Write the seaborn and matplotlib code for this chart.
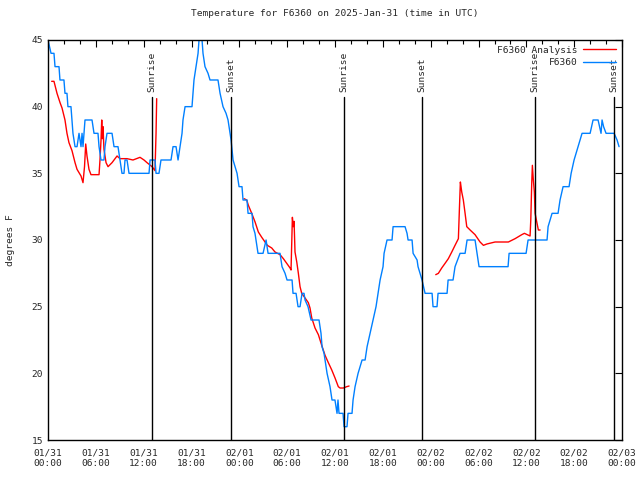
import matplotlib
matplotlib.use("Agg")
import matplotlib.pyplot as plt
import matplotlib.dates as mdates
from matplotlib.lines import Line2D
import seaborn as sns
import pandas as pd

sns.set_theme(style="white")
plt.rcParams['font.family'] = ['DejaVu Sans Mono']
FS = 6.8

start = pd.Timestamp("2025-01-31 00:00")

# observed station temperature (hours since 01/31 00:00 UTC, deg F)
obs_hours = [0.0, 0.38, 0.75, 0.88, 1.38, 1.5, 2.0, 2.13, 2.38, 2.5, 2.88, 3.0, 3.13, 3.39,
             3.64, 3.89, 4.14, 4.27, 4.39, 4.64, 5.52, 5.77, 6.27, 6.4, 6.65, 7.02, 7.15,
             7.4, 8.03, 8.28, 8.78, 9.03, 9.28, 9.53, 9.66, 9.91, 10.16, 12.67, 12.8, 13.42,
             13.55, 13.92, 14.17, 15.43, 15.68, 16.06, 16.31, 16.56, 16.81, 16.93, 17.19,
             18.06, 18.19, 18.31, 18.56, 18.82, 18.94, 19.13, 19.32, 19.44, 19.69, 20.07,
             20.32, 21.32, 21.58, 21.95, 22.33, 22.58, 22.83, 22.96, 23.21, 23.46, 23.71,
             23.96, 24.33, 24.46, 24.96, 25.09, 25.59, 25.71, 25.96, 26.34, 26.97, 27.35,
             27.6, 29.1, 29.35, 29.73, 29.98, 30.61, 30.73, 31.11, 31.36, 31.61, 31.86,
             32.11, 32.24, 32.61, 32.99, 33.99, 34.24, 34.37, 34.62, 34.75, 35.0, 35.37,
             35.62, 35.99, 36.25, 36.37, 36.5, 37.0, 37.13, 37.5, 37.63, 38.13, 38.26,
             38.51, 38.89, 39.39, 39.77, 40.02, 40.39, 40.77, 41.14, 41.39, 41.65, 42.02,
             42.15, 42.52, 43.15, 43.28, 44.78, 45.03, 45.16, 45.66, 45.79, 46.29, 46.41,
             46.66, 46.91, 47.29, 48.17, 48.29, 48.79, 48.92, 50.05, 50.18, 50.8, 51.05,
             51.68, 52.31, 52.56, 53.56, 53.81, 54.06, 57.7, 57.83, 59.96, 60.21, 62.59,
             62.72, 63.22, 63.97, 64.22, 64.6, 65.35, 65.61, 65.98, 66.48, 66.98, 67.99,
             68.36, 68.99, 69.36, 69.49, 69.68, 69.99, 71.0, 71.37, 71.62]
obs_temp = [45, 44, 44, 43, 43, 42, 42, 41, 41, 40, 40, 39, 38, 37,
            37, 38, 37, 38, 37, 39, 39, 38, 38, 37, 36, 36, 37,
            38, 38, 37, 37, 36, 35, 35, 36, 36, 35, 35, 36, 36,
            35, 35, 36, 36, 37, 37, 36, 37, 38, 39, 40,
            40, 41, 42, 43, 44, 45, 46, 45, 44, 43, 42.5,
            42, 42, 41, 40, 39.5, 39, 38, 37.5, 36, 35.5, 35,
            34, 34, 33, 33, 32, 32, 31, 30.5, 29, 29, 30,
            29, 29, 28, 27.5, 27, 27, 26, 26, 25, 25, 26,
            26, 25.5, 25, 24, 24, 23, 22, 21.5, 21, 20, 19,
            18, 18, 17, 18, 17, 17, 16, 16, 17, 17, 18,
            19, 20, 21, 21, 22, 23, 24, 25, 26, 27, 28,
            29, 30, 30, 31, 31, 30.5, 30, 30, 29, 28.5, 28,
            27.5, 27, 26, 26, 25, 25, 26, 26, 27, 27, 28,
            29, 29, 30, 30, 29, 28, 28, 29, 29, 30, 30,
            31, 32, 32, 33, 34, 34, 35, 36, 37, 38, 38,
            39, 39, 38, 39, 38.5, 38, 38, 37.5, 37]

# analysis temperature, three separate segments
ana_seg1_hours = [0.46, 0.75, 1.13, 1.51, 1.76, 2.13, 2.38, 2.63, 3.01, 3.39, 3.64, 4.14, 4.39,
                  4.58, 4.73, 4.89, 5.14, 5.39, 6.4, 6.52, 6.65, 6.74, 6.81, 6.9, 7.02, 7.28,
                  7.53, 8.03, 8.66, 9.03, 9.91, 10.66, 11.54, 12.04, 12.42, 13.05, 13.42,
                  13.55, 13.63]
ana_seg1_temp = [41.9, 41.9, 41.0, 40.3, 39.9, 39.0, 38.0, 37.3, 36.7, 35.8, 35.3, 34.8, 34.3,
                 35.5, 37.2, 36.3, 35.3, 34.9, 34.9, 36.0, 37.5, 39.0, 37.6, 38.5, 36.8, 35.8,
                 35.5, 35.8, 36.3, 36.1, 36.1, 36.0, 36.2, 36.0, 35.8, 35.5, 35.2,
                 38.0, 40.6]
ana_seg2_hours = [24.59, 24.92, 25.13, 25.55, 25.97, 26.38, 26.81, 27.22, 27.51, 28.06, 28.47,
                  29.1, 29.52, 29.94, 30.36, 30.48, 30.57, 30.65, 30.77, 30.86, 30.98, 31.2,
                  31.4, 31.61, 31.82, 32.24, 32.65, 32.86, 33.08, 33.49, 33.91, 34.33, 34.75,
                  35.16, 35.59, 36.0, 36.41, 36.63, 37.04, 37.46, 37.76]
ana_seg2_temp = [33.1, 33.0, 32.6, 32.0, 31.35, 30.6, 30.2, 29.85, 29.6, 29.4, 29.1,
                 28.9, 28.6, 28.25, 27.9, 27.75, 29.8, 31.7, 31.0, 31.4, 29.1, 28.35,
                 27.5, 26.5, 26.0, 25.65, 25.3, 24.9, 24.15, 23.4, 22.9, 22.1, 21.35,
                 20.8, 20.25, 19.65, 19.0, 18.9, 18.9, 19.0, 19.05]
ana_seg3_hours = [48.63, 48.96, 49.38, 49.8, 50.21, 50.64, 51.05, 51.47, 51.59, 51.72, 51.8,
                  51.89, 52.09, 52.31, 52.52, 52.94, 53.56, 54.19, 54.61, 55.04, 56.07, 57.74,
                  58.58, 59.42, 59.75, 60.46, 60.55, 60.67, 60.75, 60.87, 61.0, 61.09, 61.3,
                  61.5, 61.72]
ana_seg3_temp = [27.4, 27.5, 27.9, 28.25, 28.6, 29.1, 29.6, 30.1, 32.2, 34.35, 34.0,
                 33.6, 33.0, 32.0, 31.0, 30.75, 30.4, 29.85, 29.6, 29.7, 29.85, 29.85,
                 30.1, 30.4, 30.5, 30.3, 31.5, 34.3, 35.6, 34.5, 33.6, 32.0, 31.35,
                 30.75, 30.75]

sun_hours = [13.05, 22.96, 37.1, 46.9, 61.1, 71.0]
sun_labels = ["Sunrise", "Sunset", "Sunrise", "Sunset", "Sunrise", "Sunset"]

RED = "#ff0000"
BLUE = "#0080ff"

obs = pd.DataFrame({"time": start + pd.to_timedelta(obs_hours, unit="h"), "temp": obs_temp})
ana = pd.concat([
    pd.DataFrame({"time": start + pd.to_timedelta(h, unit="h"), "temp": t, "seg": i})
    for i, (h, t) in enumerate([(ana_seg1_hours, ana_seg1_temp),
                                (ana_seg2_hours, ana_seg2_temp),
                                (ana_seg3_hours, ana_seg3_temp)])
], ignore_index=True)

fig = plt.figure(figsize=(6.4, 4.8), dpi=100)
ax = fig.add_axes([0.075, 0.0833, 0.897, 0.8334])

sns.lineplot(data=ana, x="time", y="temp", units="seg", estimator=None, color=RED,
             lw=1, ax=ax, legend=False, sort=False)
sns.lineplot(data=obs, x="time", y="temp", color=BLUE, lw=1, ax=ax, legend=False,
             sort=False)

for h, lab in zip(sun_hours, sun_labels):
    t = start + pd.Timedelta(hours=h)
    ax.axvline(t, ymin=0, ymax=0.857, color="black", lw=1)
    ax.text(t, 0.87, lab, transform=ax.get_xaxis_transform(), rotation=90,
            ha="center", va="bottom", fontsize=FS)

ax.set_xlim(start, start + pd.Timedelta(hours=72))
ax.set_ylim(15, 45)
ax.set_yticks(range(15, 46, 5))
ax.xaxis.set_major_locator(mdates.HourLocator(byhour=range(0, 24, 6)))
ax.xaxis.set_minor_locator(mdates.HourLocator(interval=2))
ax.xaxis.set_major_formatter(mdates.DateFormatter("%m/%d\n%H:%M"))
ax.tick_params(which="both", direction="in", top=True, right=True, labelsize=FS,
               color="black")
ax.tick_params(which="major", length=5, width=0.8)
ax.tick_params(which="minor", length=3, width=0.8)
ax.tick_params(axis="x", pad=6)
for s in ax.spines.values():
    s.set_color("black")
    s.set_linewidth(1)

ax.set_xlabel("")
ax.set_ylabel("degrees F", fontsize=FS, labelpad=12)
ax.set_title("Temperature for F6360 on 2025-Jan-31 (time in UTC)", fontsize=FS, pad=17)

handles = [Line2D([], [], color=RED, lw=1), Line2D([], [], color=BLUE, lw=1)]
ax.legend(handles, ["F6360 Analysis", "F6360"], loc="upper right", frameon=False,
          markerfirst=False, fontsize=FS, handlelength=3.5, borderaxespad=0.2,
          labelspacing=0.4, handletextpad=0.6)

fig.savefig("out.png", dpi=100)
